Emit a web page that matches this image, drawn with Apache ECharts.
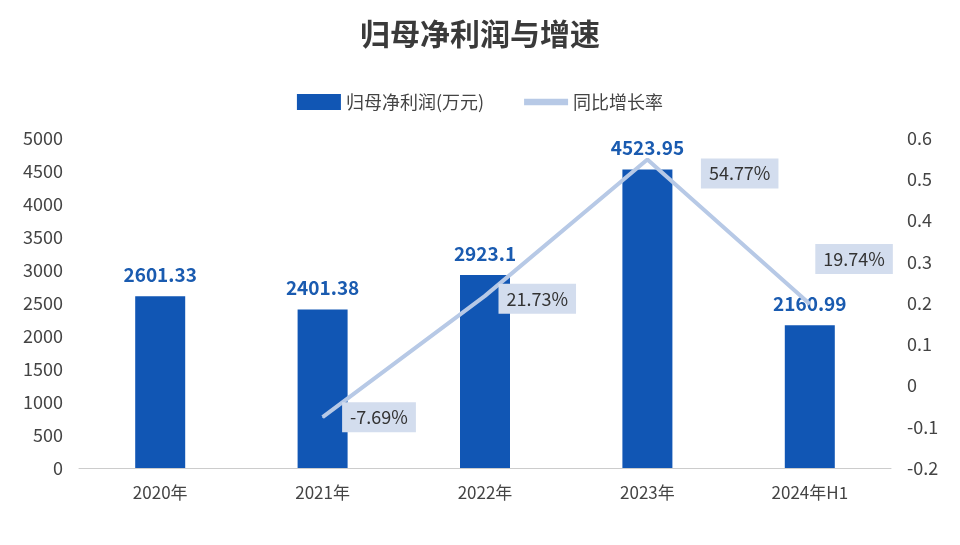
<!DOCTYPE html>
<html><head><meta charset="utf-8">
<script src="https://cdn.jsdelivr.net/npm/echarts@6/dist/echarts.min.js"></script>
<style>html,body{margin:0;padding:0;background:#fff}#c{width:960px;height:545px}</style>
</head><body><div id="c"></div>
<script>
const categories=['2020年','2021年','2022年','2023年','2024年H1'];
const profit=[2601.33,2401.38,2923.1,4523.95,2160.99];
const growth=[null,-0.0769,0.2173,0.5477,0.1974];
const growthLabels=[null,'-7.69%','21.73%','54.77%','19.74%'];
const labelOffsets=[[0,0],[14,0],[8,3],[48,14],[0,-45]];
const chart=echarts.init(document.getElementById('c'));
const font='"Noto Sans CJK SC","Noto Sans",sans-serif';
chart.setOption({
 textStyle:{fontFamily:font},
 title:{text:'归母净利润与增速',left:'center',top:14,textStyle:{fontSize:30,fontWeight:'bold',color:'#3a3a3a',fontFamily:font}},
 legend:{top:88,left:'center',itemGap:40,itemWidth:44,itemHeight:16,textStyle:{fontSize:18,color:'#444'},
  data:[{name:'归母净利润(万元)',icon:'rect'},{name:'同比增长率',icon:'path://M0,0H10V1.5H0Z'}]},
 grid:{left:79,right:69,top:138,bottom:77},
 xAxis:{type:'category',data:categories,axisTick:{show:false},axisLine:{lineStyle:{color:'#ccc'}},
  axisLabel:{fontSize:17,color:'#444',margin:16}},
 yAxis:[{type:'value',min:0,max:5000,interval:500,splitLine:{show:false},axisLabel:{fontSize:18,color:'#444',margin:16,formatter:v=>String(v)}},
  {type:'value',min:-0.2,max:0.6,interval:0.1,splitLine:{show:false},axisLabel:{fontSize:18,color:'#444',margin:16,formatter:v=>String(+v.toFixed(1))}}],
 series:[
  {name:'归母净利润(万元)',type:'bar',data:profit,barWidth:50,itemStyle:{color:'#1156b4'},
   label:{show:true,position:'top',distance:12,fontSize:19,fontWeight:'bold',color:'#1a5bb0'}},
  {name:'同比增长率',type:'line',yAxisIndex:1,symbol:'circle',symbolSize:1,showSymbol:true,z:3,lineStyle:{color:'#b7c9e6',width:4},itemStyle:{color:'#b7c9e6'},
   data:growth,
   label:{show:true,position:'right',fontSize:18,color:'#333',backgroundColor:'#d3ddee',padding:[6,8],
    formatter:p=>growthLabels[p.dataIndex]||''},
   labelLayout:p=>({dx:labelOffsets[p.dataIndex][0],dy:labelOffsets[p.dataIndex][1],hideOverlap:false})}
 ]
});
</script></body></html>
